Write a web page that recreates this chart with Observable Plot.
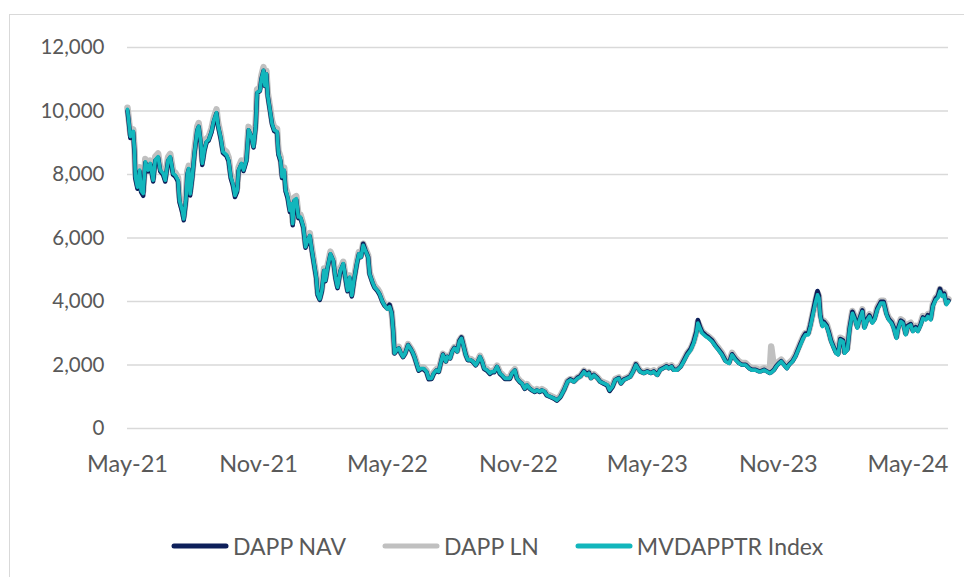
<!DOCTYPE html>
<html><head><meta charset="utf-8">
<script src="https://cdn.jsdelivr.net/npm/d3@7"></script>
<script src="https://cdn.jsdelivr.net/npm/@observablehq/plot@0.6"></script>
<style>
html,body{margin:0;padding:0;background:#fff}
body{width:964px;height:577px;overflow:hidden;position:relative;font-family:Lato,"Noto Sans",sans-serif}
#frame{position:absolute;left:9px;top:14px;width:1100px;height:700px;border:1.5px solid #d9d9d9;box-sizing:border-box}
#chart{position:absolute;left:0;top:0}
#legend{position:absolute;top:531px;left:171px;height:30px;display:flex;align-items:center;gap:36px;font-size:23px;color:#595959;white-space:nowrap}
.item{display:flex;align-items:center}
.item svg{margin-right:4px}
</style>
</head><body>
<div id="frame"></div>
<div id="chart"></div>
<div id="legend"></div>
<script>
const seriesNames = ["DAPP NAV", "DAPP LN", "MVDAPPTR Index"];
const seriesColors = ["#0d1f5a", "#c0c0c0", "#12b6bc"];
const xTickLabels = ["2021-05-01","2021-11-01","2022-05-01","2022-11-01","2023-05-01","2023-11-01","2024-05-01"];
const yTicks = [0, 2000, 4000, 6000, 8000, 10000, 12000];

const dates = [
"2021-05-01","2021-05-03","2021-05-05","2021-05-09","2021-05-11","2021-05-12","2021-05-15","2021-05-18","2021-05-20","2021-05-23",
"2021-05-26","2021-05-30","2021-06-02","2021-06-06","2021-06-09","2021-06-13","2021-06-16","2021-06-20","2021-06-23","2021-06-27",
"2021-06-30","2021-07-04","2021-07-07","2021-07-11","2021-07-13","2021-07-17","2021-07-19","2021-07-22","2021-07-24","2021-07-26",
"2021-07-28","2021-07-31",
"2021-08-03","2021-08-07","2021-08-09","2021-08-12","2021-08-14","2021-08-17","2021-08-20","2021-08-23","2021-08-27","2021-08-30",
"2021-09-03","2021-09-05","2021-09-09","2021-09-12","2021-09-17","2021-09-20","2021-09-23","2021-09-26","2021-09-29","2021-10-02",
"2021-10-04","2021-10-08","2021-10-11","2021-10-15","2021-10-18","2021-10-22","2021-10-25","2021-10-28","2021-10-30",
"2021-11-03","2021-11-05","2021-11-08","2021-11-10","2021-11-12","2021-11-14","2021-11-17","2021-11-20","2021-11-23","2021-11-27",
"2021-11-29","2021-12-02","2021-12-04","2021-12-07","2021-12-09","2021-12-12","2021-12-15","2021-12-17","2021-12-19","2021-12-21",
"2021-12-24","2021-12-27","2021-12-30",
"2022-01-03","2022-01-06","2022-01-09","2022-01-12","2022-01-15","2022-01-18","2022-01-21","2022-01-23","2022-01-26","2022-01-29",
"2022-02-01","2022-02-03","2022-02-06","2022-02-10","2022-02-14","2022-02-17","2022-02-20","2022-02-24","2022-02-28","2022-03-03",
"2022-03-06","2022-03-09","2022-03-12","2022-03-15","2022-03-19","2022-03-22","2022-03-25","2022-03-28","2022-03-31","2022-04-04",
"2022-04-06","2022-04-10","2022-04-13","2022-04-17","2022-04-20","2022-04-24","2022-04-27",
"2022-05-01","2022-05-04","2022-05-07","2022-05-09","2022-05-11","2022-05-14","2022-05-17","2022-05-20","2022-05-23","2022-05-26",
"2022-05-30","2022-06-02","2022-06-05","2022-06-08","2022-06-11","2022-06-14","2022-06-17","2022-06-21","2022-06-25","2022-06-28",
"2022-07-02","2022-07-05","2022-07-09","2022-07-12","2022-07-16","2022-07-18","2022-07-22","2022-07-24","2022-07-28","2022-07-31",
"2022-08-03","2022-08-07","2022-08-10","2022-08-13","2022-08-15","2022-08-19","2022-08-22","2022-08-26","2022-08-29","2022-09-02",
"2022-09-05","2022-09-08","2022-09-11","2022-09-14","2022-09-18","2022-09-22","2022-09-25","2022-09-28","2022-10-02","2022-10-06",
"2022-10-09","2022-10-13","2022-10-16","2022-10-20","2022-10-23","2022-10-27","2022-10-30",
"2022-11-03","2022-11-06","2022-11-10","2022-11-13","2022-11-17","2022-11-20","2022-11-24","2022-11-27","2022-12-01","2022-12-04",
"2022-12-08","2022-12-11","2022-12-16","2022-12-21","2022-12-25","2022-12-30",
"2023-01-04","2023-01-09","2023-01-13","2023-01-18","2023-01-23","2023-01-27","2023-02-01","2023-02-05","2023-02-08","2023-02-11",
"2023-02-15","2023-02-20","2023-02-24","2023-03-01","2023-03-06","2023-03-09","2023-03-13","2023-03-17","2023-03-22","2023-03-25",
"2023-03-29","2023-04-03","2023-04-07","2023-04-11","2023-04-15","2023-04-18","2023-04-21","2023-04-26",
"2023-05-01","2023-05-06","2023-05-10","2023-05-15","2023-05-19","2023-05-23","2023-05-28","2023-05-31","2023-06-04","2023-06-07",
"2023-06-12","2023-06-17","2023-06-21","2023-06-26","2023-07-01","2023-07-05","2023-07-09","2023-07-11","2023-07-14","2023-07-17",
"2023-07-22","2023-07-26","2023-07-31","2023-08-05","2023-08-09","2023-08-14","2023-08-19","2023-08-24","2023-08-28",
"2023-09-02","2023-09-07","2023-09-11","2023-09-16","2023-09-21","2023-09-25","2023-09-30","2023-10-05","2023-10-07","2023-10-12",
"2023-10-16","2023-10-20","2023-10-22","2023-10-26","2023-10-29","2023-11-02","2023-11-05","2023-11-09","2023-11-13","2023-11-16",
"2023-11-21","2023-11-25","2023-11-28","2023-12-02","2023-12-06","2023-12-09","2023-12-13","2023-12-16","2023-12-20","2023-12-23",
"2023-12-26","2023-12-28","2023-12-30",
"2024-01-02","2024-01-04","2024-01-08","2024-01-11","2024-01-14","2024-01-18","2024-01-21","2024-01-24","2024-01-27","2024-01-31",
"2024-02-02","2024-02-06","2024-02-09","2024-02-13","2024-02-16","2024-02-20","2024-02-23","2024-02-27","2024-03-01","2024-03-05",
"2024-03-08","2024-03-12","2024-03-15","2024-03-19","2024-03-24","2024-03-28","2024-04-01","2024-04-04","2024-04-08","2024-04-11",
"2024-04-15","2024-04-17","2024-04-21","2024-04-24","2024-04-28","2024-05-01","2024-05-05","2024-05-08","2024-05-12","2024-05-15",
"2024-05-19","2024-05-22","2024-05-26","2024-05-29","2024-06-02","2024-06-05","2024-06-09","2024-06-12","2024-06-15","2024-06-18",
"2024-06-21","2024-06-24","2024-06-27"
];

const dappNav = [
10000,9600,9150,9330,8620,7880,7550,8100,7450,7330,8370,8100,8320,7780,8430,8530,8100,7990,7780,8430,8530,7990,7940,7780,7130,6800,6560,7140,8000,8160,7340,7900,
8640,9390,9500,8960,8300,8750,9010,9070,9330,9650,9930,9540,9110,8680,8580,8420,7880,7660,7290,7460,8110,8320,8110,8430,9390,9180,8850,9500,10560,
10630,11000,11270,10790,11160,10460,10020,9570,9370,9320,8620,8410,7890,8100,7470,7250,6820,7040,6400,7150,7200,6620,6620,
6320,5690,5900,6050,5580,5160,4740,4200,4050,4320,4960,4640,5060,5480,5270,4740,4420,4960,5170,4740,4320,4740,4160,4640,5170,5490,5400,5820,5620,5400,4860,4590,4430,4330,4220,3990,3870,
3780,3900,3650,3120,2360,2460,2520,2360,2250,2360,2630,2530,2410,2250,2030,1820,1870,1870,1770,1550,1560,1720,1830,1780,2160,2330,2110,2260,2210,2430,
2540,2430,2760,2870,2690,2320,2150,2150,2100,1990,2100,2250,2100,1870,1820,1720,1770,1770,1940,1720,1660,1560,1560,1560,1730,1830,1570,
1460,1410,1250,1360,1250,1200,1150,1200,1150,1200,1150,1040,990,940,880,990,
1210,1480,1550,1480,1600,1650,1810,1700,1760,1590,1690,1590,1470,1410,1350,1180,1300,1530,1590,1420,1540,1590,1640,1800,2020,1900,1800,1750,
1800,1750,1800,1690,1850,1900,1960,1900,1960,1850,1850,1960,2130,2350,2510,2730,3060,3420,3200,3040,2940,2870,2770,2600,2490,2340,2130,2070,2340,
2180,2060,2010,2010,1900,1850,1850,1800,1800,1850,1800,1750,1770,1850,1960,2060,2120,2010,1900,2010,2120,2280,2450,2670,2880,2990,2990,3260,3700,4040,4330,4190,3580,
3250,3360,3240,3030,2770,2550,2390,2340,2820,2770,2390,2490,3140,3680,3510,3190,3450,3720,3190,3450,3560,3350,3450,3780,3990,3990,3610,3450,3350,3190,2870,3140,3400,3350,2980,3240,3290,3080,3190,3080,3290,3500,3450,3570,3450,3880,4090,4160,4400,4200,4250,3940,4030
];

const dappLn = [
10100,9700,9280,9420,8750,8000,7680,8230,7580,7480,8490,8220,8440,7900,8560,8660,8230,8120,7900,8550,8650,8110,8060,7900,7260,6940,6680,7260,8110,8270,7470,8010,
8760,9510,9620,9090,8440,8870,9130,9190,9450,9770,10050,9660,9240,8810,8710,8540,8010,7790,7420,7580,8230,8440,8230,8550,9500,9290,8970,9610,10680,
10740,11110,11380,10890,11270,10570,10140,9690,9490,9440,8750,8540,8010,8220,7590,7380,6950,7160,6520,7270,7320,6740,6730,
6420,5790,6000,6150,5670,5250,4830,4290,4120,4400,5040,4720,5140,5570,5350,4830,4500,5040,5250,4820,4400,4820,4240,4710,5250,5560,5460,5820,5670,5450,4920,4660,4500,4400,4290,4050,3920,
3800,3870,3670,3140,2400,2500,2570,2400,2290,2400,2660,2560,2450,2290,2080,1870,1920,1920,1820,1610,1610,1770,1870,1820,2190,2350,2140,2290,2240,2450,
2560,2450,2770,2870,2710,2350,2190,2190,2140,2030,2140,2290,2140,1920,1870,1770,1820,1820,1980,1770,1710,1610,1610,1610,1770,1870,1610,
1500,1450,1290,1400,1290,1240,1190,1240,1190,1240,1190,1080,1030,980,920,1030,
1240,1500,1560,1500,1610,1660,1820,1710,1770,1610,1710,1610,1500,1450,1400,1240,1350,1560,1610,1450,1560,1610,1660,1820,2030,1920,1820,1770,
1830,1780,1830,1720,1880,1930,1990,1930,1990,1880,1880,1990,2160,2370,2520,2730,3050,3350,3210,3060,2960,2900,2800,2640,2530,2380,2170,2110,2380,
2220,2110,2060,2060,1950,1900,1900,1850,1850,1900,1850,1800,2580,1900,2010,2110,2170,2060,1950,2060,2170,2320,2480,2690,2900,3010,3010,3270,3690,4010,4270,4170,3600,
3280,3390,3280,3070,2810,2600,2440,2390,2860,2810,2440,2540,3180,3700,3540,3230,3490,3750,3230,3490,3600,3390,3490,3810,4020,4020,3650,3490,3390,3230,2910,3180,3440,3390,3020,3280,3330,3120,3230,3120,3330,3540,3490,3600,3490,3910,4120,4180,4390,4230,4280,3970,4070
];

const mvdapptr = [
10050,9630,9200,9360,8670,7930,7600,8140,7500,7400,8400,8140,8350,7820,8460,8560,8140,8030,7820,8460,8560,8030,7980,7820,7180,6860,6600,7180,8030,8190,7390,7930,
8670,9410,9520,9000,8350,8780,9040,9100,9360,9680,9950,9570,9150,8720,8620,8460,7930,7710,7340,7500,8140,8350,8140,8460,9410,9200,8880,9520,10580,
10640,11010,11280,10800,11170,10480,10050,9600,9400,9350,8660,8450,7930,8140,7510,7300,6870,7080,6450,7190,7240,6660,6660,
6350,5720,5930,6080,5610,5190,4770,4240,4080,4350,4980,4660,5080,5500,5290,4770,4450,4980,5190,4770,4350,4770,4190,4660,5190,5500,5400,5770,5610,5400,4870,4610,4450,4350,4240,4000,3880,
3760,3840,3630,3100,2370,2470,2530,2370,2260,2370,2630,2530,2420,2260,2050,1840,1890,1890,1790,1580,1580,1740,1840,1790,2160,2320,2110,2260,2210,2420,
2530,2420,2740,2840,2680,2320,2160,2160,2110,2000,2110,2260,2110,1890,1840,1740,1790,1790,1950,1740,1680,1580,1580,1580,1740,1840,1580,
1470,1420,1260,1370,1260,1210,1160,1210,1160,1210,1160,1050,1000,950,890,1000,
1210,1470,1530,1470,1580,1630,1790,1680,1740,1580,1680,1580,1470,1420,1370,1210,1320,1530,1580,1420,1530,1580,1630,1790,2000,1890,1790,1740,
1790,1740,1790,1680,1840,1890,1950,1890,1950,1840,1840,1950,2110,2320,2470,2680,3000,3320,3160,3000,2900,2840,2740,2580,2470,2320,2110,2050,2320,
2160,2050,2000,2000,1890,1840,1840,1790,1790,1840,1790,1740,1760,1840,1950,2050,2110,2000,1890,2000,2110,2260,2420,2630,2840,2950,2950,3210,3630,3950,4210,4110,3530,
3210,3320,3210,3000,2740,2530,2370,2320,2790,2740,2370,2470,3110,3630,3470,3160,3420,3680,3160,3420,3530,3320,3420,3740,3950,3950,3580,3420,3320,3160,2840,3110,3370,3320,2950,3210,3260,3050,3160,3050,3260,3470,3420,3530,3420,3840,4050,4110,4320,4160,4210,3900,4000
];

if (dates.length !== dappNav.length || dates.length !== dappLn.length || dates.length !== mvdapptr.length) {
  console.error("length mismatch", dates.length, dappNav.length, dappLn.length, dappLn.length, mvdapptr.length);
}

const parse = d3.utcParse("%Y-%m-%d");
const mk = arr => dates.map((d, i) => ({date: parse(d), value: arr[i]}));
const navRows = mk(dappNav), lnRows = mk(dappLn), idxRows = mk(mvdapptr);

const chart = Plot.plot({
  width: 964, height: 490,
  marginLeft: 127, marginRight: 16, marginTop: 47, marginBottom: 62,
  style: {fontFamily: "Lato, 'Noto Sans', sans-serif", color: "#595959", background: "transparent", overflow: "visible"},
  x: {type: "utc", domain: [parse(dates[0]), parse(dates[dates.length - 1])]},
  y: {domain: [0, 12000]},
  marks: [
    Plot.ruleY(yTicks, {stroke: "#d9d9d9", strokeWidth: 1.5}),
    Plot.axisY({ticks: yTicks, tickFormat: d3.format(","), tickSize: 0, tickPadding: 23, fontSize: 20.5, label: null}),
    Plot.axisX({ticks: xTickLabels.map(parse), tickFormat: d3.utcFormat("%b-%y"), tickSize: 0, tickPadding: 27, fontSize: 23.5, label: null}),
    Plot.line(lnRows, {x: "date", y: "value", stroke: seriesColors[1], strokeWidth: 6.5, strokeLinejoin: "round", strokeLinecap: "round"}),
    Plot.line(navRows, {x: "date", y: "value", stroke: seriesColors[0], strokeWidth: 4.5, strokeLinejoin: "round", strokeLinecap: "round"}),
    Plot.line(idxRows, {x: "date", y: "value", stroke: seriesColors[2], strokeWidth: 3.6, strokeLinejoin: "round", strokeLinecap: "round"})
  ]
});
document.getElementById("chart").appendChild(chart);

const legend = document.getElementById("legend");
seriesNames.forEach((name, i) => {
  const item = document.createElement("div");
  item.className = "item";
  item.innerHTML = `<svg width="58" height="10"><line x1="3" y1="5" x2="55" y2="5" stroke="${seriesColors[i]}" stroke-width="5" stroke-linecap="round"/></svg><span>${name}</span>`;
  legend.appendChild(item);
});
</script>
</body></html>
